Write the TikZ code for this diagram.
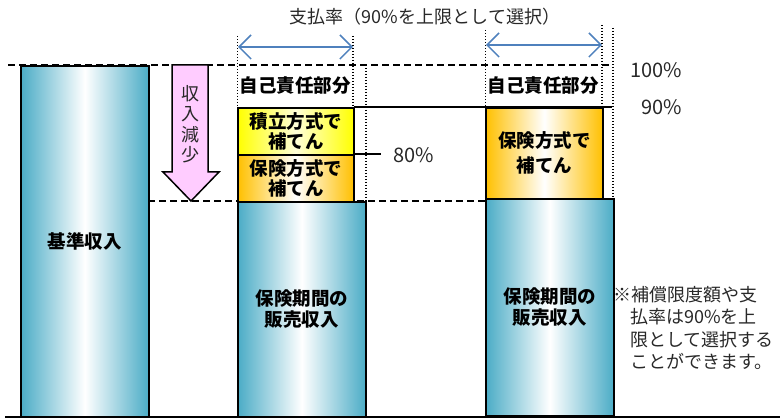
\documentclass[tikz,border=0pt]{standalone}
\usepackage{fontspec}
\setmainfont{Noto Sans CJK JP}
\usetikzlibrary{arrows.meta}
\definecolor{tealc}{RGB}{75,172,198}
\definecolor{orangec}{RGB}{255,192,0}
\definecolor{yellowc}{RGB}{255,255,0}
\definecolor{pinkc}{RGB}{255,204,255}
\definecolor{bluec}{RGB}{79,129,189}
\definecolor{txtc}{RGB}{40,40,40}
\begin{document}
\begin{tikzpicture}[x=1pt,y=-1pt,
  box/.style={draw=black, line width=1.6pt, anchor=north west, inner sep=0pt, align=center,
    font=\fontsize{18.5}{21}\selectfont\bfseries},
  tealbar/.style={box, left color=tealc, right color=tealc, middle color=white},
  orangebox/.style={box, left color=orangec, right color=orangec, middle color=white},
  yellowbox/.style={box, left color=yellowc, right color=yellowc, middle color=yellowc!15},
  dashline/.style={line width=1.6pt, dash pattern=on 7pt off 4pt},
  dotline/.style={line width=1.1pt, dash pattern=on 1pt off 2pt},
  solidline/.style={line width=1.6pt},
  twoway/.style={bluec, line width=1.5pt, {Straight Barb[length=12pt,width=24pt]}-{Straight Barb[length=12pt,width=24pt]}},
  thintext/.style={text=txtc, inner sep=0pt, font=\fontsize{19}{22}\selectfont},
  selfpart/.style={inner sep=0pt, font=\fontsize{18.5}{21}\selectfont\bfseries}
]
\useasboundingbox (0,0) rectangle (780,419);

% coordinates
\coordinate (topL) at (8,65);
\coordinate (topR) at (612,65);
\coordinate (midL) at (148,201);
\coordinate (midR) at (485,201);
\coordinate (ninetyL) at (354,107);
\coordinate (ninetyR) at (612,107);
\coordinate (eightyL) at (354,154);
\coordinate (eightyR) at (381,154);

% title
\node[thintext, font=\fontsize{18}{21}\selectfont] (title) at (425,17) {支払率（90\%を上限として選択）};

% dotted verticals
\draw[dotline] (237.5,36) -- (237.5,107);
\draw[dotline] (353,36) -- (353,107);
\draw[dotline] (366,65) -- (366,201);
\draw[dotline] (485.5,30) -- (485.5,107);
\draw[dotline] (602,25) -- (602,107);
\draw[dotline] (613,28) -- (613,198);

% blue double arrows
\coordinate (a1) at (238,47);
\coordinate (a2) at (353,47);
\coordinate (b1) at (486,45);
\coordinate (b2) at (602,45);
\draw[twoway] (a1) -- (a2);
\draw[twoway] (b1) -- (b2);

% horizontal reference lines
\draw[dashline] (topL) -- (topR);
\draw[dashline] (midL) -- (midR);
\draw[solidline] (ninetyL) -- (ninetyR);
\draw[solidline] (eightyL) -- (eightyR);

% pink arrow
\draw[line width=1.5pt, fill=pinkc, line join=miter]
  (172,65) -- (208,65) -- (208,172) -- (219,172) -- (191,201) -- (163,172) -- (172,172) -- cycle;
\node[text=txtc, inner sep=0pt, align=center, font=\fontsize{18}{20.5}\selectfont] (decr) at (190,124) {収\\入\\減\\少};

% bars
\node[tealbar, minimum width=128pt, minimum height=351pt] (base) at (20,65) {基準収入};
\node[tealbar, minimum width=128pt, minimum height=215pt] (sales1) at (237,201) {保険期間の\\販売収入};
\node[yellowbox, minimum width=116pt, minimum height=47pt, font=\fontsize{18.5}{19.5}\selectfont\bfseries] (fund) at (237,107) {積立方式で\\補てん};
\node[orangebox, minimum width=116pt, minimum height=47pt, font=\fontsize{18.5}{19.5}\selectfont\bfseries] (ins1) at (237,154) {保険方式で\\補てん};
\node[tealbar, minimum width=128pt, minimum height=217pt] (sales2) at (485,198) {保険期間の\\販売収入};
\node[orangebox, minimum width=117pt, minimum height=91pt, font=\fontsize{18.5}{25}\selectfont\bfseries] (ins2) at (485,107) {保険方式で\\補てん};

% labels
\node[selfpart] (self1) at (295,86) {自己責任部分};
\node[selfpart] (self2) at (543,86) {自己責任部分};
\node[thintext, font=\fontsize{20}{22}\selectfont] (p100) at (656,70) {100\%};
\node[thintext, font=\fontsize{20}{22}\selectfont] (p90) at (662,107) {90\%};
\node[thintext, font=\fontsize{20}{22}\selectfont] (p80) at (414,155) {80\%};

% note
\node[thintext, anchor=north west, align=left, font=\fontsize{18}{22.5}\selectfont] (note) at (613,286)
  {※補償限度額や支\\\hspace*{0.95em}払率は90\%を上\\\hspace*{0.95em}限として選択する\\\hspace*{0.95em}ことができます。};

% baseline
\draw[line width=2.6pt] (5,417) -- (780,417);
\end{tikzpicture}
\end{document}
